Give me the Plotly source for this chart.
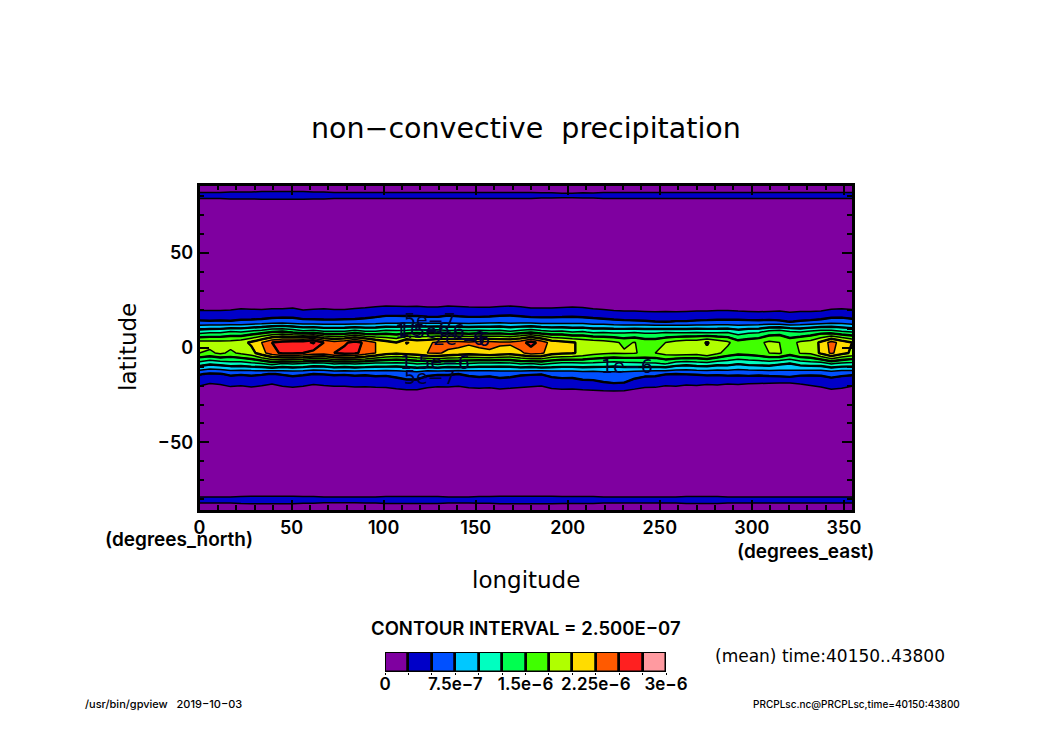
import numpy as np
import plotly.graph_objects as go

W, H = 1050, 742
UNIT = 1e-7
lons = [i * 5.625 for i in range(65)]
lats = [-85.76, -80.27, -74.74, -24.93, -19.39, -13.85, -8.31, -2.77,
        2.77, 8.31, 13.85, 19.39, 24.93, 74.74, 80.27, 85.76]

row_n86 = [1.5,1.5,1.5,1.5,1.5,1.4,1.4,1.4,1.4,1.4,1.4,1.4,1.4,1.4,1.4,1.4,1.5,1.5,1.5,1.5,1.5,1.5,1.5,1.5,1.5,1.5,1.5,1.4,1.4,1.4,1.4,1.4,1.4,1.4,1.4,1.5,1.5,1.5,1.5,1.5,1.5,1.5,1.5,1.5,1.5,1.5,1.5,1.5,1.5,1.5,1.5,1.5,1.5,1.5,1.5,1.5,1.5,1.5,1.5,1.5,1.5,1.5,1.5,1.5,1.5]
row_n80 = [3.0,3.0,3.0,3.0,3.1,3.2,3.2,3.2,3.2,3.2,3.1,3.1,3.0,3.0,3.0,3.0,3.0,3.0,3.1,3.1,3.1,3.1,3.1,3.1,3.0,3.0,3.0,3.1,3.1,3.2,3.2,3.2,3.2,3.2,3.2,3.1,3.1,3.1,3.1,3.0,3.0,3.0,3.0,3.0,3.0,3.0,3.0,3.1,3.1,3.1,3.1,3.0,3.0,3.0,3.0,3.0,3.0,3.0,3.0,3.0,3.0,3.0,3.0,3.0,3.0]
row_n75 = [1.0,1.0,1.0,1.0,1.0,1.0,1.0,1.0,1.0,1.0,1.0,1.0,1.0,1.0,1.0,1.0,1.0,1.0,1.0,1.0,1.0,1.0,1.0,1.0,1.0,1.0,1.0,1.0,1.0,1.0,1.0,1.0,1.0,1.0,1.0,1.0,1.0,1.0,1.0,1.0,1.0,1.0,1.0,1.0,1.0,1.0,1.0,1.0,1.0,1.0,1.0,1.0,1.0,1.0,1.0,1.0,1.0,1.0,1.0,1.0,1.0,1.0,1.0,1.0,1.0]
row_n25 = [0.6,0.5,0.6,0.6,0.6,0.7,0.6,0.5,0.6,0.6,0.7,0.6,0.6,0.6,0.6,0.6,0.7,0.7,0.8,0.9,0.9,1.0,0.8,0.7,0.7,0.7,0.7,0.8,0.8,0.9,0.8,0.8,0.7,0.7,0.8,0.9,0.9,1.0,1.0,1.1,1.1,1.0,0.9,0.8,0.7,0.6,0.6,0.6,0.6,0.6,0.6,0.6,0.6,0.6,0.5,0.5,0.5,0.5,0.6,0.6,0.7,0.9,0.8,0.7,0.6]
row_n19 = [2.8,2.3,2.5,3.0,2.8,3.1,2.8,2.4,2.9,3.2,2.9,2.5,2.7,2.9,2.9,3.1,3.0,3.2,3.2,3.6,4.1,4.1,3.3,3.0,3.1,2.9,3.3,3.5,3.3,3.7,3.5,3.2,3.0,2.8,3.6,3.8,3.7,4.1,4.3,4.6,4.8,4.7,3.8,3.2,3.2,2.8,2.9,2.6,2.7,2.5,2.6,2.4,2.5,2.3,2.2,2.1,2.0,1.9,2.4,2.7,3.1,3.9,3.5,2.9,2.8]
row_n14 = [5.2,4.7,4.9,5.4,5.2,5.4,5.2,4.9,5.2,5.5,5.3,5.0,5.1,5.3,5.2,5.4,5.3,5.5,5.4,5.7,6.0,6.0,5.4,5.2,5.2,5.0,5.4,5.6,5.5,5.8,5.7,5.3,5.2,5.1,5.6,5.8,5.8,6.1,6.0,6.3,6.4,6.4,6.0,5.6,5.5,5.1,5.0,5.1,5.2,5.4,5.3,5.5,5.4,5.6,5.5,5.7,5.9,6.2,5.5,5.4,5.4,5.6,5.4,5.3,5.2]
row_n08 = [11.5,10.6,11.0,11.6,11.5,12.0,12.5,13.5,12.5,12.8,12.5,11.8,12.0,12.8,12.5,12.8,12.5,12.0,12.0,11.8,12.0,12.8,12.5,13.2,12.5,12.8,12.5,12.0,12.0,11.8,12.0,12.8,12.5,13.2,12.5,12.0,12.0,12.2,12.0,11.8,11.5,11.8,12.0,12.2,12.2,12.8,11.5,11.0,11.5,11.7,11.0,11.0,10.3,10.8,11.0,11.2,10.5,10.0,11.0,11.4,11.5,12.8,12.0,11.8,11.5]
row_n03 = [17.5,17.0,18.0,17.0,18.0,19.0,21.5,24.0,25.5,25.5,25.0,24.0,23.5,25.0,26.0,25.5,24.0,22.5,21.0,20.5,21.0,21.5,22.5,22.8,22.0,21.5,21.0,21.5,22.0,21.5,21.0,22.0,23.5,23.0,21.0,20.5,20.2,19.5,18.5,18.0,17.6,17.8,17.6,17.2,17.5,18.5,19.0,18.8,18.5,19.5,18.0,16.5,15.8,16.0,16.5,17.5,17.8,16.2,17.6,18.0,20.5,23.0,21.0,19.5,17.5]
row_p03 = [18.5,18.5,18.5,18.5,19.0,20.5,22.5,25.0,26.0,26.5,26.5,28.0,25.0,23.5,24.5,26.0,24.5,22.5,21.0,20.0,22.8,21.5,22.0,23.0,23.5,23.5,23.0,23.5,23.5,23.0,23.0,24.0,26.0,24.0,21.5,20.8,20.2,19.5,19.0,18.5,18.0,17.0,17.6,16.5,16.5,17.5,18.5,19.0,19.0,20.2,19.0,18.0,16.0,16.5,17.0,18.0,17.5,16.5,18.0,18.5,20.5,23.5,21.5,20.0,18.5]
row_p08 = [11.5,12,12,12.8,12.5,13.3,14,15,15.5,14.5,13.5,13.8,13,13,13,13.8,13,13,13.8,13.5,13.8,14.3,14,14.2,13.5,13.8,13.5,13.8,13.5,13.8,13,13.8,14.5,13.5,13,13.2,12.5,12.8,12,12.2,12,12,12.2,12,12,12.2,12,12,12.2,12,12,12.2,11.3,12,12.2,13.5,14,13,12.5,13.3,14,13.8,13,12.5,11.5]
row_p14 = [5.3,5.2,5.3,5.2,5.4,5.5,5.7,6.0,6.2,6.0,5.7,5.6,5.5,5.5,5.6,5.6,5.8,6.0,6.3,6.4,6.5,6.4,6.3,6.2,6.5,6.3,6.2,6.3,6.5,6.6,6.5,6.4,6.3,6.2,6.2,6.2,6.3,6.2,6.0,5.8,5.6,5.4,5.3,5.2,5.0,4.9,5.1,5.1,5.3,5.4,5.5,5.5,5.5,5.4,5.4,5.5,5.3,4.9,5.2,5.4,5.7,6.2,6.2,5.8,5.3]
row_p19 = [2.6,2.6,2.6,2.7,3.0,2.9,2.8,3.0,3.0,3.2,2.7,2.9,3.0,2.8,2.8,3.1,3.3,3.6,3.9,3.8,3.7,3.8,3.5,3.5,3.9,3.7,3.5,3.4,3.4,3.7,3.9,3.6,3.2,3.2,3.2,3.4,3.5,3.3,3.0,2.8,2.6,2.5,2.5,2.4,2.3,2.4,2.3,2.4,2.5,2.5,2.6,2.6,2.5,2.4,2.3,2.4,2.5,2.2,2.4,2.4,2.5,2.9,3.0,2.8,2.6]
row_p25 = [0.6,0.6,0.6,0.6,0.7,0.7,0.7,0.7,0.8,0.8,0.7,0.7,0.7,0.7,0.7,0.7,0.8,0.9,1.0,1.0,1.0,1.0,0.9,0.9,1.0,1.0,0.9,0.9,0.9,0.9,1.0,0.9,0.8,0.8,0.8,0.8,0.9,0.9,0.8,0.7,0.6,0.6,0.6,0.6,0.6,0.6,0.6,0.6,0.6,0.6,0.6,0.6,0.6,0.5,0.5,0.5,0.6,0.6,0.6,0.6,0.6,0.7,0.7,0.7,0.6]
row_p75 = [1.0,1.0,1.0,1.0,1.0,1.0,1.0,1.0,1.0,1.0,1.0,1.0,1.0,1.0,1.0,1.0,1.0,1.0,1.0,1.0,1.0,1.0,1.0,1.0,1.0,1.0,1.0,1.0,1.0,1.0,1.0,1.0,1.0,1.0,1.0,1.0,1.0,1.0,1.0,1.0,1.0,1.0,1.0,1.0,1.0,1.0,1.0,1.0,1.0,1.0,1.0,1.0,1.0,1.0,1.0,1.0,1.0,1.0,1.0,1.0,1.0,1.0,1.0,1.0,1.0]
row_p80 = [3.0,3.0,3.0,3.1,3.1,3.1,3.2,3.2,3.2,3.2,3.2,3.1,3.1,3.0,3.0,3.0,3.0,3.0,3.0,3.0,3.0,3.0,3.0,3.0,3.0,3.0,3.0,3.0,3.0,3.0,3.0,3.0,3.0,2.9,2.9,2.8,2.8,2.9,2.9,3.0,3.0,3.0,3.0,3.0,3.0,3.0,3.0,3.0,3.0,3.0,3.0,3.0,3.0,3.0,3.0,3.0,3.0,3.0,3.0,3.0,3.0,3.0,3.0,3.0,3.0]
row_p86 = [1.5,1.5,1.5,1.5,1.5,1.5,1.5,1.5,1.5,1.5,1.5,1.5,1.5,1.5,1.5,1.5,1.5,1.5,1.5,1.5,1.5,1.5,1.5,1.5,1.5,1.5,1.5,1.5,1.5,1.5,1.5,1.5,1.5,1.6,1.6,1.6,1.6,1.6,1.5,1.5,1.5,1.5,1.5,1.5,1.5,1.5,1.5,1.5,1.5,1.5,1.5,1.5,1.5,1.5,1.5,1.5,1.5,1.5,1.5,1.5,1.5,1.5,1.5,1.5,1.5]

z_rows = [row_n86, row_n80, row_n75, row_n25, row_n19, row_n14, row_n08, row_n03,
          row_p03, row_p08, row_p14, row_p19, row_p25, row_p75, row_p80, row_p86]

interval = 2.5e-7
level_count = 12
colors = ["#7f00a0", "#0000c8", "#0050ff", "#00c8ff", "#00ffc0", "#00ff50",
          "#40ff00", "#b0ff00", "#ffdc00", "#ff5a00", "#ff2020", "#ff9aa0"]
bar_ticks = [0, 7.5e-7, 1.5e-6, 2.25e-6, 3e-6]
bar_labels = ["0", "7.5e\u22127", "1.5e\u22126", "2.25e\u22126", "3e\u22126"]

contour_labels = [
    (125, 14.7, "5e\u22127"), (122, 9.8, "1e\u22126"), (125, 8.6, "1.5e\u22126"),
    (141, 5.0, "2e\u22126"), (150, 4.5, "\u22126"), (128, -7.5, "1.5e\u22126"),
    (125, -15.5, "5e\u22127"), (232, -9.5, "1e\u22126"),
]

scale = []
for i, c in enumerate(colors):
    scale += [[i / level_count, c], [(i + 1) / level_count, c]]

FONT = "DejaVu Sans"
HEAVY = "Inter"
z = np.array(z_rows) * UNIT
fig = go.Figure()
fig.add_trace(go.Contour(
    x=lons, y=lats, z=z,
    zmin=0, zmax=interval * level_count, colorscale=scale, showscale=False,
    contours=dict(start=0, end=interval * level_count, size=interval, coloring="fill"),
    line=dict(color="black", width=1.5, smoothing=0), hoverinfo="skip",
))
fig.add_trace(go.Contour(
    x=lons, y=lats, z=z, showscale=False,
    contours=dict(start=2 * interval, end=interval * level_count, size=2 * interval, coloring="none"),
    line=dict(color="black", width=2.4, smoothing=0), hoverinfo="skip",
))
mids = [(i + 0.5) * interval for i in range(level_count)]
fig.add_trace(go.Bar(
    x=mids, y=[1] * level_count, width=[interval] * level_count,
    marker=dict(color=colors, line=dict(color="black", width=2.5)),
    xaxis="x2", yaxis="y2", hoverinfo="skip", showlegend=False,
))

tickfont = dict(family=HEAVY, size=18, color="black", weight=600)
axis_common = dict(showgrid=False, zeroline=False, showline=True, linecolor="black", linewidth=2.5,
                   mirror="ticks", ticks="inside", ticklen=10, tickwidth=2, tickcolor="black",
                   tickfont=tickfont)
minor = dict(dtick=10, ticks="inside", ticklen=5, tickwidth=1.5, tickcolor="black")
fig.update_layout(
    width=W, height=H, margin=dict(l=0, r=0, t=0, b=0, autoexpand=False),
    paper_bgcolor="white", plot_bgcolor="white",
    showlegend=False, bargap=0, font=dict(family=FONT, color="black"),
    xaxis=dict(domain=[199.5 / W, 852 / W], range=[0, 354.375], tick0=0, dtick=50, minor=minor, **axis_common),
    yaxis=dict(domain=[1 - 510 / H, 1 - 185.5 / H], range=[-85.76, 85.76], tick0=0, dtick=50, minor=minor, **axis_common),
    xaxis2=dict(domain=[385 / W, 666 / W], anchor="y2", range=[0, 3e-6], tickvals=bar_ticks, ticktext=bar_labels,
                showgrid=False, zeroline=False, ticks="", ticklen=2,
                tickfont=dict(family=HEAVY, size=17, color="black", weight=600),
                minor=dict(tick0=0, dtick=interval, ticks="outside", ticklen=2, tickwidth=1, tickcolor="black")),
    yaxis2=dict(domain=[1 - 672 / H, 1 - 652 / H], anchor="x2", range=[0, 1], visible=False),
)

def text(px, py, s, size, anchor="center", angle=0, family=FONT, weight=400):
    fig.add_annotation(xref="paper", yref="paper", x=px / W, y=1 - py / H, text=s, showarrow=False,
                       xanchor=anchor, yanchor="middle", textangle=angle,
                       font=dict(family=family, size=size, color="black", weight=weight))

text(526, 129, "non\u2212convective  precipitation", 28.5)
text(128, 347, "latitude", 23, angle=-90)
text(526, 580, "longitude", 23)
text(179, 539, "(degrees_north)", 19, family=HEAVY, weight=600)
text(805, 551, "(degrees_east)", 19, family=HEAVY, weight=600)
text(526, 628, "CONTOUR INTERVAL = 2.500E\u221207", 18.5, family=HEAVY, weight=600)
text(713, 656, "(mean) time:40150..43800", 17, anchor="left")
text(83, 704, "/usr/bin/gpview   2019\u221210\u221203", 11, anchor="left", family=HEAVY, weight=500)
text(962, 704, "PRCPLsc.nc@PRCPLsc,time=40150:43800", 10, anchor="right", family=HEAVY, weight=500)

for lon, lat, s in contour_labels:
    fig.add_annotation(x=lon, y=lat, text=s, showarrow=False, xref="x", yref="y",
                       font=dict(family=FONT, size=19, color="#000030"))

fig.write_html("out.html", post_script="document.body.style.margin='0';", config=dict(displayModeBar=False))
